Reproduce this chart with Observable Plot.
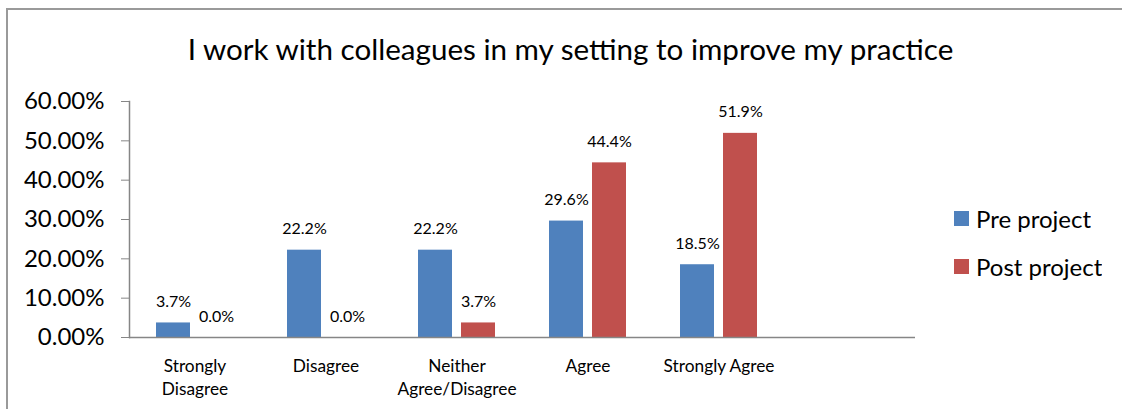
<!DOCTYPE html>
<html>
<head>
<meta charset="utf-8">
<script src="https://cdn.jsdelivr.net/npm/d3@7"></script>
<script src="https://cdn.jsdelivr.net/npm/@observablehq/plot@0.6"></script>
<style>
  html, body { margin: 0; padding: 0; background: #fff; }
  #wrap { position: relative; width: 1122px; height: 409px; overflow: hidden; font-family: Lato, sans-serif; }
  #border { position: absolute; left: 6px; top: 8px; width: 1300px; height: 600px; border: 2px solid #9a9a9a; box-sizing: border-box; }
  #chart { position: absolute; left: 0; top: 0; }
  #title { position: absolute; left: 0; top: 34px; width: 1141px; text-align: center; font-size: 29.6px; line-height: 29px; color: #000; white-space: nowrap; }
  #legend { position: absolute; left: 954px; top: 194px; }
  div.lg-swatches-columns { font-family: Lato, sans-serif; font-size: 24px; color: #000; margin: 0; }
  div.lg-swatches-columns .lg-swatch { height: 48px; padding: 0; display: flex; align-items: center; }
  div.lg-swatches-columns .lg-swatch svg { margin-right: 7px; }
</style>
</head>
<body>
<div id="wrap">
  <div id="border"></div>
  <div id="chart"></div>
  <div id="title"></div>
  <div id="legend"></div>
</div>
<script>
const title = "I work with colleagues in my setting to improve my practice";
const categories = ["Strongly Disagree", "Disagree", "Neither Agree/Disagree", "Agree", "Strongly Agree", ""];
const categoryLabels = ["Strongly\nDisagree", "Disagree", "Neither\nAgree/Disagree", "Agree", "Strongly Agree", ""];
const seriesNames = ["Pre project", "Post project"];
const seriesColors = ["#4F81BD", "#C0504D"];
const preValues = [0.037, 0.222, 0.222, 0.296, 0.185];
const postValues = [0.0, 0.0, 0.037, 0.444, 0.519];
const yTicks = [0, 0.1, 0.2, 0.3, 0.4, 0.5, 0.6];

const data = [];
preValues.forEach((v, i) => {
  data.push({cat: categories[i], series: seriesNames[0], value: v});
  data.push({cat: categories[i], series: seriesNames[1], value: postValues[i]});
});

const labelOf = new Map(categories.map((c, i) => [c, categoryLabels[i]]));
const gray = "#868686";

const chart = Plot.plot({
  width: 1122,
  height: 409,
  marginLeft: 128,
  marginRight: 207,
  marginTop: 101,
  marginBottom: 72,
  style: {fontFamily: "Lato, sans-serif", color: "#000", background: "transparent"},
  fx: {domain: categories, padding: 0, axis: null, label: null},
  x: {domain: seriesNames, paddingInner: 0.2, paddingOuter: 0.6, axis: null},
  y: {domain: [0, 0.6], axis: null},
  color: {domain: seriesNames, range: seriesColors},
  marks: [
    Plot.barY(data, {fx: "cat", x: "series", y: "value", fill: "series"}),
    Plot.text(data, {fx: "cat", x: "series", y: "value", text: d => d3.format(".1%")(d.value),
      dy: -21, lineAnchor: "middle", fontSize: 16, fill: "#000"}),
    Plot.ruleY([0], {stroke: gray, strokeWidth: 1.5}),
    Plot.ruleY([0], {stroke: gray, strokeWidth: 1.5, facetAnchor: "empty"}),
    Plot.frame({anchor: "left", facetAnchor: "left", stroke: gray, strokeWidth: 1.5}),
    Plot.axisY({ticks: yTicks, tickFormat: d3.format(".2%"), tickSize: 8, tickPadding: 17,
      fontSize: 24, stroke: gray, fill: "#000", label: null}),
    Plot.axisFx({anchor: "bottom", tickSize: 0, tickPadding: 19, fontSize: 17.3, lineHeight: 1.3,
      tickFormat: d => labelOf.get(d), fill: "#000", label: null})
  ]
});
document.getElementById("chart").appendChild(chart);
document.getElementById("title").textContent = title;

const legend = Plot.legend({
  color: {domain: seriesNames, range: seriesColors},
  legend: "swatches",
  columns: 1,
  swatchSize: 15,
  className: "lg"
});
document.getElementById("legend").appendChild(legend);
</script>
</body>
</html>
